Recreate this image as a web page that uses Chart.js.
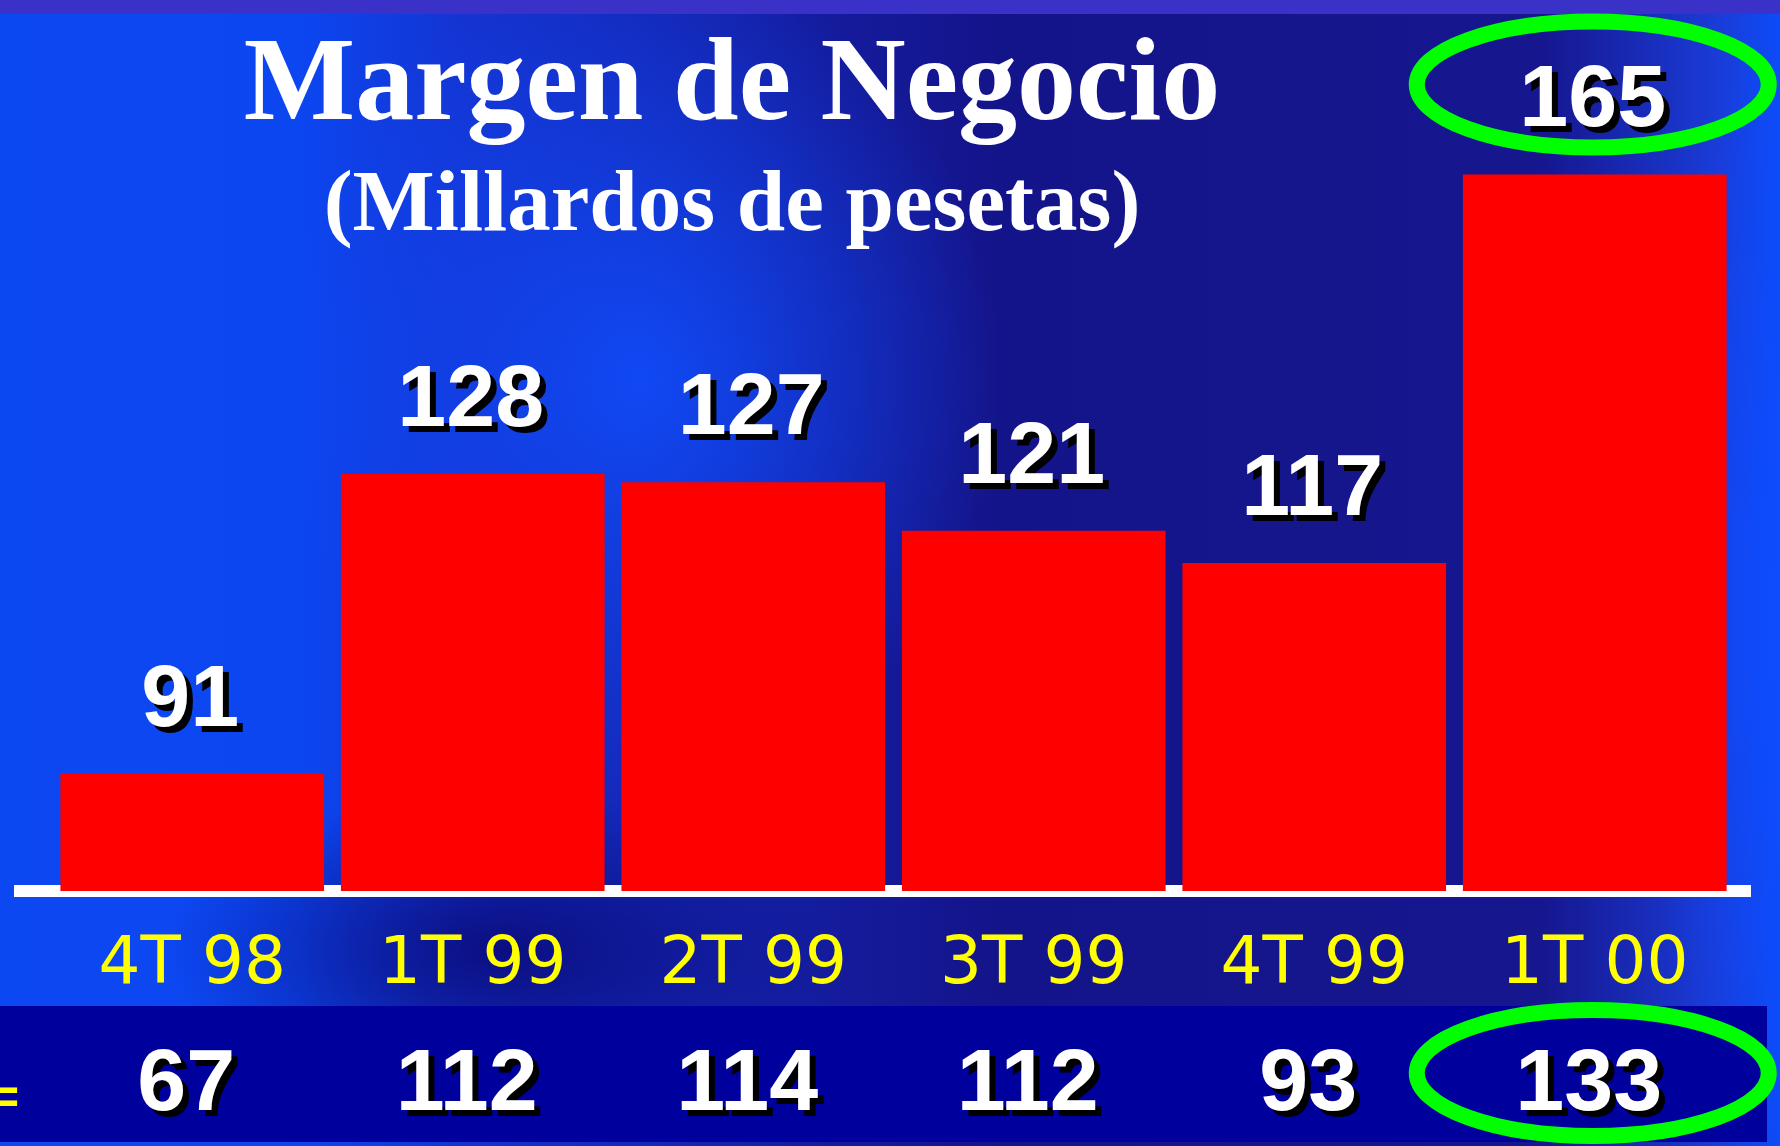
<!DOCTYPE html>
<html>
<head>
<meta charset="utf-8">
<script src="https://cdn.jsdelivr.net/npm/chart.js@4.4.1/dist/chart.umd.min.js"></script>
<style>
  html, body { margin: 0; padding: 0; overflow: hidden; }
  #slide {
    position: relative;
    width: 1780px;
    height: 1146px;
    background:
      linear-gradient(#3a32c8, #3a32c8) top left / 100% 14px no-repeat,
      radial-gradient(ellipse 330px 160px at 500px 950px, rgba(10, 10, 120, 0.9), rgba(10, 10, 120, 0)),
      radial-gradient(ellipse 360px 420px at 640px 380px, rgba(16, 76, 250, 0.9), rgba(16, 76, 250, 0)),
      radial-gradient(ellipse 160px 600px at 1800px 620px, rgba(14, 76, 255, 0.95), rgba(14, 76, 255, 0)),
      linear-gradient(90deg, #0c48f2 0px, #0c46f0 300px, #1434d2 460px, #141c9e 820px, #14148a 1000px, #16168e 1540px, #1a3cd8 1720px, #0c4cf8 1780px);
  }
</style>
</head>
<body>
<div id="slide"><canvas id="margenChart" width="1780" height="1146"></canvas></div>
<script>
// datos del gráfico
const quarters = ["4T 98", "1T 99", "2T 99", "3T 99", "4T 99", "1T 00"];
const margenNegocio = [91, 128, 127, 121, 117, 165];
const margenAnterior = [67, 112, 114, 112, 93, 133];
const highlightIndex = 5; // 1T 00 is circled
const titleText = "Margen de Negocio";
const subtitleText = "(Millardos de pesetas)";

function shadowText(ctx, text, x, y) {
  ctx.fillStyle = "#000000";
  ctx.fillText(text, x + 6, y + 6);
  ctx.fillStyle = "#ffffff";
  ctx.fillText(text, x, y);
}

function ring(ctx, cx, cy) {
  ctx.save();
  ctx.strokeStyle = "#00ff00";
  ctx.lineWidth = 16;
  ctx.beginPath();
  ctx.ellipse(cx, cy, 176, 63, 0, 0, Math.PI * 2);
  ctx.stroke();
  ctx.restore();
}

const slidePlugin = {
  id: "slide",
  beforeDraw(chart) {
    const ctx = chart.ctx;
    ctx.save();
    // dark band behind the second row of numbers
    ctx.fillStyle = "#00009c";
    ctx.fillRect(0, 1006, 1767, 136);
    ctx.restore();
  },
  beforeDatasetsDraw(chart) {
    const { ctx, chartArea } = chart;
    ctx.save();
    ctx.strokeStyle = "#ffffff";
    ctx.lineWidth = 12;
    ctx.beginPath();
    ctx.moveTo(14, chartArea.bottom);
    ctx.lineTo(1751, chartArea.bottom);
    ctx.stroke();
    ctx.restore();
  },
  afterDatasetsDraw(chart) {
    const ctx = chart.ctx;
    const bars = chart.getDatasetMeta(0).data;
    ctx.save();

    // title
    ctx.textAlign = "center";
    ctx.textBaseline = "alphabetic";
    ctx.fillStyle = "#ffffff";
    ctx.font = 'bold 118px "Liberation Serif"';
    ctx.fillText(titleText, 732, 119);
    ctx.font = 'bold 87px "Liberation Serif"';
    ctx.fillText(subtitleText, 732, 230);

    // values above bars and the row underneath
    ctx.font = 'bold 88px "Liberation Sans"';
    bars.forEach((bar, i) => {
      const labelY = bar.y - 48;
      shadowText(ctx, String(margenNegocio[i]), bar.x - 2, labelY);
      shadowText(ctx, String(margenAnterior[i]), bar.x - 6, 1110);
      if (i === highlightIndex) {
        ring(ctx, bar.x - 2, labelY - 42);
        ring(ctx, bar.x - 2, 1073);
      }
    });

    // "=" left over at the edge of the bottom row
    ctx.textAlign = "right";
    ctx.fillStyle = "#ffff00";
    ctx.font = '66px "DejaVu Sans"';
    ctx.fillText("=", 24, 1117);
    ctx.restore();
  }
};

const ctx = document.getElementById("margenChart").getContext("2d");
const margenChart = new Chart(ctx, {
  type: "bar",
  data: {
    labels: quarters,
    datasets: [{
      label: "Margen de Negocio",
      data: margenNegocio,
      backgroundColor: "#ff0000",
      borderWidth: 0,
      barPercentage: 0.94,
      categoryPercentage: 1.0
    }]
  },
  options: {
    responsive: false,
    animation: false,
    layout: { padding: { left: 52, right: 45, top: 134, bottom: 0 } },
    plugins: {
      legend: { display: false },
      title: { display: false },
      tooltip: { enabled: false }
    },
    scales: {
      x: {
        grid: { display: false },
        border: { display: false },
        ticks: {
          color: "#ffff00",
          font: { family: "DejaVu Sans", size: 66 },
          padding: 27,
          maxRotation: 0,
          autoSkip: false
        },
        afterFit(scale) { scale.height = 255; }
      },
      y: {
        display: false,
        min: 76.5,
        max: 170
      }
    }
  },
  plugins: [slidePlugin]
});
</script>
</body>
</html>
